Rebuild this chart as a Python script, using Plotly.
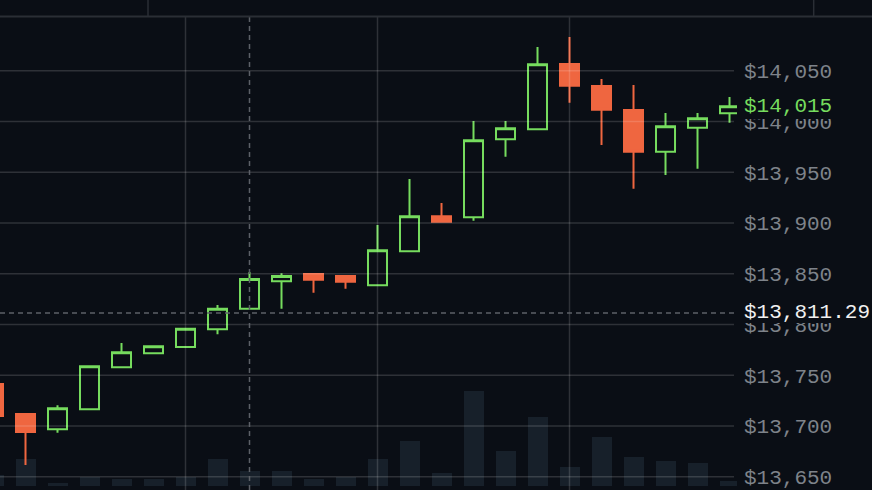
import plotly.graph_objects as go

# ---- data ----
times = ["08:00", "08:10", "08:20", "08:30", "08:40", "08:50",
         "09:00", "09:10", "09:20", "09:30", "09:40", "09:50",
         "10:00", "10:10", "10:20", "10:30", "10:40", "10:50",
         "11:00", "11:10", "11:20", "11:30", "11:40", "11:50"]
opens = [13741.3, 13711.8, 13696.7, 13716.4, 13757.8, 13771.6,
         13777.8, 13795.2, 13815.5, 13842.5, 13849.7, 13847.7,
         13838.6, 13872.1, 13906.6, 13905.6, 13982.4, 13992.3,
         14056.6, 14034.9, 14011.3, 13970.2, 13993.8, 14008.0]
highs = [13745.0, 13712.0, 13720.3, 13759.0, 13781.7, 13778.5,
         13795.8, 13819.2, 13851.7, 13850.4, 13850.4, 13848.7,
         13898.0, 13943.3, 13919.7, 14000.4, 14000.4, 14073.3,
         14083.2, 14041.8, 14035.9, 14008.3, 14008.3, 14024.1]
lows = [13705.0, 13661.5, 13693.3, 13716.0, 13757.8, 13771.6,
        13777.8, 13790.3, 13815.0, 13815.5, 13831.3, 13835.2,
        13838.6, 13872.0, 13901.0, 13902.2, 13965.3, 13992.0,
        14018.5, 13976.8, 13933.7, 13947.2, 13953.4, 13998.8]
closes = [13709.8, 13694.0, 13717.4, 13758.8, 13772.6, 13778.5,
          13795.8, 13815.5, 13844.8, 13847.7, 13844.1, 13842.1,
          13873.1, 13906.6, 13901.2, 13981.4, 13993.3, 14056.3,
          14035.2, 14011.6, 13970.2, 13995.2, 14003.1, 14015.0]
volumes = [22, 54, 6, 19, 14, 14, 19, 54, 30, 30, 15, 18,
           54, 90, 26, 190, 70, 138, 38, 98, 58, 50, 46, 10]

price_ticks = [13650, 13700, 13750, 13800, 13850, 13900, 13950, 14000, 14050]
price_labels = ["$13,650", "$13,700", "$13,750", "$13,800", "$13,850",
                "$13,900", "$13,950", "$14,000", "$14,050"]
hour_marks = ["09:00", "10:00", "11:00"]
cursor_time = "09:20"
cursor_price = 13811.29
last_price = 14015
last_label = "$14,015"
cursor_label = "$13,811.29"

# ---- styling ----
BG = "#0a0e15"
GREEN = "#76dc5e"
RED = "#ef6640"
GRID = "rgba(255,255,255,0.15)"
TICK = "#7e838a"
VOL = "#17202a"
FONT = "Liberation Mono"

W, H = 872, 490
ML, MR, MT, MB = 0, 135, 17, 0
PW = W - ML - MR
PH = H - MT - MB


def px_x(px):
    return (px - ML) / PW


def px_y(py):
    return (H - MB - py) / PH


fig = go.Figure()

fig.add_trace(go.Bar(
    x=times, y=volumes, marker=dict(color=VOL, line=dict(width=0)),
    width=0.625, yaxis="y", hoverinfo="skip", showlegend=False))

fig.add_trace(go.Candlestick(
    x=times, open=opens, high=highs, low=lows, close=closes,
    yaxis="y2", showlegend=False,
    increasing=dict(line=dict(color=GREEN, width=2), fillcolor=BG),
    decreasing=dict(line=dict(color=RED, width=2), fillcolor=RED),
    whiskerwidth=0))

shapes = []
# horizontal grid lines (drawn over the candles, semi-transparent)
for v in price_ticks:
    shapes.append(dict(type="line", xref="paper", yref="y2",
                       x0=0, x1=px_x(734), y0=v, y1=v,
                       line=dict(color=GRID, width=1.5), layer="above"))
# vertical grid lines
for t in hour_marks:
    shapes.append(dict(type="line", xref="x", yref="paper",
                       x0=t, x1=t, y0=0, y1=1,
                       line=dict(color=GRID, width=1.5), layer="above"))
# crosshair
shapes.append(dict(type="line", xref="x", yref="paper", x0=cursor_time, x1=cursor_time,
                   y0=0, y1=1, line=dict(color="#5c6067", width=1.5, dash="5px,4px"),
                   layer="above"))
shapes.append(dict(type="line", xref="paper", yref="y2", x0=0, x1=px_x(734),
                   y0=cursor_price, y1=cursor_price,
                   line=dict(color="#5c6067", width=1.5, dash="5px,4px"), layer="above"))
# top pane separator and its vertical lines
shapes.append(dict(type="line", xref="paper", yref="paper", x0=0, x1=px_x(W),
                   y0=px_y(16.5), y1=px_y(16.5),
                   line=dict(color="#2a2e35", width=2), layer="above"))
for xx in [148, 813.7]:
    shapes.append(dict(type="line", xref="paper", yref="paper", x0=px_x(xx), x1=px_x(xx),
                       y0=px_y(16), y1=px_y(0),
                       line=dict(color="#2a2e35", width=1.5), layer="above"))
# label backgrounds (cover the tick labels beneath)
shapes.append(dict(type="rect", xref="paper", yref="paper", x0=px_x(739), x1=px_x(W),
                   y0=px_y(119), y1=px_y(94), fillcolor=BG, line=dict(width=0), layer="above"))
shapes.append(dict(type="rect", xref="paper", yref="paper", x0=px_x(739), x1=px_x(W),
                   y0=px_y(323), y1=px_y(301), fillcolor=BG, line=dict(width=0), layer="above"))

annotations = [
    dict(xref="paper", yref="y2", x=px_x(742), y=last_price, text=last_label,
         showarrow=False, xanchor="left", yanchor="middle",
         font=dict(family=FONT, size=21, color=GREEN)),
    dict(xref="paper", yref="y2", x=px_x(742), y=cursor_price, text=cursor_label,
         showarrow=False, xanchor="left", yanchor="middle",
         font=dict(family=FONT, size=21, color="#f0f0f0")),
]

fig.update_layout(
    width=W, height=H,
    margin=dict(l=ML, r=MR, t=MT, b=MB, pad=0),
    paper_bgcolor=BG, plot_bgcolor=BG,
    boxgap=0.406, boxgroupgap=0,
    bargap=0,
    showlegend=False,
    shapes=shapes,
    annotations=annotations,
    xaxis=dict(type="category", range=[0.2031, 23.234], showgrid=False,
               showticklabels=False, zeroline=False, showline=False,
               rangeslider=dict(visible=False), fixedrange=True),
    yaxis=dict(range=[-8, 938], visible=False, showgrid=False, fixedrange=True),
    yaxis2=dict(overlaying="y", side="right", range=[13636.9, 14102.9],
                tickmode="array", tickvals=price_ticks, ticktext=price_labels,
                showgrid=False, zeroline=False, showline=False, ticks="",
                ticklabelstandoff=6, ticklabeloverflow="allow",
                tickfont=dict(family=FONT, size=21, color=TICK), fixedrange=True),
)

fig.write_html("out.html")
